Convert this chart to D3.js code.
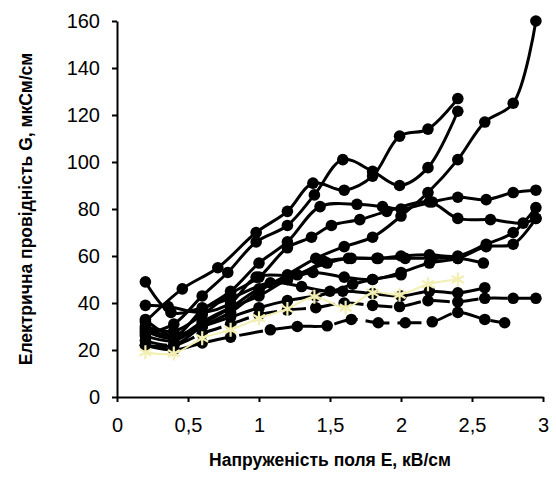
<!DOCTYPE html>
<html><head><meta charset="utf-8">
<script src="https://cdn.jsdelivr.net/npm/d3@7"></script>
<style>
body{margin:0;background:#fff;}
text{font-family:"Liberation Sans",Arial,sans-serif;}
</style></head>
<body><svg id="c" width="556" height="490"></svg>
<script>
// Tick labels
const xTicks = [0, 0.5, 1, 1.5, 2, 2.5, 3];
const yTicks = [0, 20, 40, 60, 80, 100, 120, 140, 160];

// Series: [E (kV/cm), G (uS/cm)]
const s1 = [[0.2,32],[0.46,46],[0.71,55],[0.98,70],[1.2,79],[1.38,91],[1.6,88],[1.8,94],[1.99,111],[2.19,114],[2.4,127]];
const s2 = [[0.2,27],[0.4,31],[0.6,43],[0.78,53],[0.98,66],[1.2,73],[1.39,86],[1.59,101],[1.8,96],[1.99,90],[2.19,97.6],[2.4,121.6]];
const s3 = [[0.2,33],[0.4,26],[0.6,37],[0.8,45],[1.0,57],[1.2,66],[1.43,81],[1.69,82],[1.87,81],[2.0,80],[2.22,83],[2.4,85],[2.6,84],[2.79,87],[2.95,88]];
const s4 = [[0.2,22],[0.4,22],[0.6,30],[0.8,36],[1.0,45],[1.2,52],[1.4,59],[1.6,64],[1.8,68],[2.0,77],[2.19,87],[2.4,101],[2.59,117],[2.79,125],[2.95,160]];
const s5 = [[0.2,30],[0.4,28],[0.6,35],[0.8,44],[1.0,51],[1.2,63.5],[1.37,68],[1.51,73],[1.71,75.5],[1.9,79],[2.2,83],[2.4,76],[2.63,75.5],[2.86,74],[2.95,76]];
const s6 = [[0.2,28],[0.4,25],[0.6,32],[0.8,38],[1.0,43],[1.2,50],[1.48,57],[1.63,59],[1.83,59],[2.0,60],[2.2,60.5],[2.4,60],[2.6,65],[2.79,70],[2.95,80.6]];
const s7 = [[0.2,26],[0.4,24],[0.6,31],[0.8,38],[1.0,46],[1.2,50],[1.38,53],[1.6,51],[1.8,50],[2.0,53],[2.2,57],[2.4,59],[2.6,64],[2.79,65],[2.95,76]];
const s8 = [[0.2,39],[0.36,38.5],[0.6,36],[0.8,40],[0.98,51],[1.27,52],[1.46,57.6],[1.65,59],[1.84,59],[2.03,59],[2.22,59],[2.4,59],[2.58,57]];
const s9 = [[0.2,49],[0.38,36],[0.6,38],[0.8,42],[1.08,48.6],[1.3,47],[1.5,45],[1.66,48],[1.8,50],[2.0,52]];
const s10 = [[0.2,24],[0.4,22],[0.6,27],[0.8,31],[1.0,35],[1.2,37],[1.4,38],[1.6,40],[1.8,39],[1.99,38.5],[2.19,41],[2.4,40.5],[2.59,42],[2.79,42],[2.95,42]];
const s11 = [[0.2,29],[0.4,26],[0.6,30],[0.8,34],[1.0,38],[1.2,41],[1.4,43],[1.59,45],[1.8,44],[2.0,43],[2.2,45],[2.4,44.3],[2.59,46.5]];
const s12 = [[0.2,22],[0.4,20],[0.6,23],[0.8,25.5],[1.08,28.6],[1.27,30],[1.48,30.3],[1.65,33],[1.84,31.6],[2.03,31.6],[2.22,32],[2.4,36],[2.59,33],[2.73,31.6]];
const sY = [[0.2,19],[0.4,18.5],[0.6,25],[0.8,28.6],[1.0,33.5],[1.2,37.5],[1.39,42.7],[1.61,38],[1.8,44.4],[1.99,43.5],[2.19,48],[2.4,50]];

const blackSeries = [
  {d:s1},{d:s2},{d:s3},{d:s4},{d:s5},{d:s6},{d:s7},{d:s8},{d:s9},
  {d:s10, dash:"22,7"},{d:s11},{d:s12, dash:"24,8"}
];

const svg = d3.select("#c");
const x = d3.scaleLinear().domain([0,3]).range([117,543]);
const y = d3.scaleLinear().domain([0,160]).range([397,21]);

// Axes
const ya = svg.append("g").attr("transform","translate(117,0)")
  .call(d3.axisLeft(y).tickValues(yTicks).tickSize(5).tickPadding(12).tickSizeOuter(0));
const xa = svg.append("g").attr("transform","translate(0,397)")
  .call(d3.axisBottom(x).tickValues(xTicks).tickSize(5).tickPadding(16).tickSizeOuter(0)
    .tickFormat(d => String(d).replace(".", ",")));
[ya, xa].forEach(g => {
  g.selectAll("path,line").attr("stroke","#000").attr("stroke-width",2);
  g.selectAll("text").attr("font-size",20).attr("fill","#000")
   .style("font-family","'Liberation Sans',Arial,sans-serif");
});

const line = d3.line().x(d => x(d[0])).y(d => y(d[1])).curve(d3.curveCatmullRom.alpha(0.5));

const plot = svg.append("g");
blackSeries.forEach(s => {
  plot.append("path").attr("d", line(s.d)).attr("fill","none")
    .attr("stroke","#000").attr("stroke-width",3)
    .attr("stroke-dasharray", s.dash || null);
  plot.selectAll(null).data(s.d).enter().append("circle")
    .attr("cx", d => x(d[0])).attr("cy", d => y(d[1])).attr("r", 5.8).attr("fill","#000");
});

// Yellow asterisk series
const yellow = "#f3efb3";
plot.append("path").attr("d", line(sY)).attr("fill","none")
  .attr("stroke", yellow).attr("stroke-width",2);
const star = "M0,-7L0,7M-6,-3.5L6,3.5M-6,3.5L6,-3.5";
plot.selectAll(null).data(sY).enter().append("path")
  .attr("d", star).attr("transform", d => `translate(${x(d[0])},${y(d[1])})`)
  .attr("stroke", yellow).attr("stroke-width",2.2).attr("fill","none");

// Titles
svg.append("text").attr("x",330).attr("y",466).attr("text-anchor","middle")
  .attr("font-size",17.5).attr("font-weight","bold").text("Напруженість поля Е, кВ/см");
svg.append("text").attr("transform","translate(32,209) rotate(-90)").attr("text-anchor","middle")
  .attr("font-size",17.5).attr("font-weight","bold").text("Електрична провідність G, мкСм/см");
</script></body></html>
